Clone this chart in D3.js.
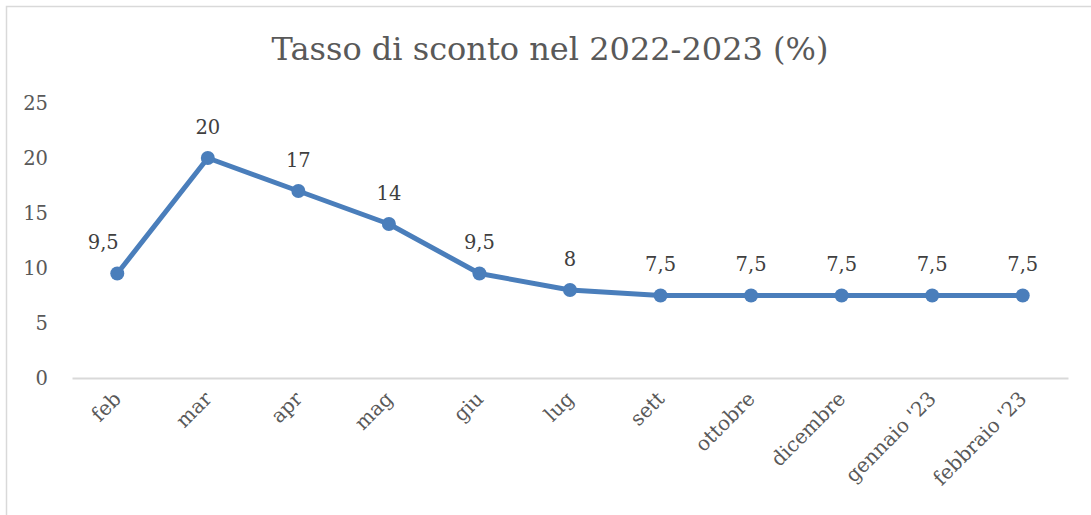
<!DOCTYPE html>
<html>
<head>
<meta charset="utf-8">
<script src="https://cdn.jsdelivr.net/npm/d3@7"></script>
<style>
  html, body { margin: 0; padding: 0; background: #fff; }
</style>
</head>
<body>
<div id="chart"></div>
<script>
// dati
const months = ["feb", "mar", "apr", "mag", "giu", "lug", "sett", "ottobre", "dicembre", "gennaio '23", "febbraio '23"];
const rates = [9.5, 20, 17, 14, 9.5, 8, 7.5, 7.5, 7.5, 7.5, 7.5];
const yTicks = [0, 5, 10, 15, 20, 25];
const title = "Tasso di sconto nel 2022-2023 (%)";

const width = 1091;
const height = 515;
const marginLeft = 72;
const marginRight = 23;
const marginTop = 103;
const plotBottom = 378;

const font = "'DejaVu Serif', serif";
const textColor = "#595959";
const lineColor = "#4a7ebb";

const svg = d3.create("svg")
    .attr("width", width)
    .attr("height", height);

// bordo del grafico
svg.append("rect")
    .attr("x", 6.5)
    .attr("y", 6.5)
    .attr("width", width + 20)
    .attr("height", height + 20)
    .attr("fill", "#fff")
    .attr("stroke", "#d9d9d9")
    .attr("stroke-width", 1.5);

const x = d3.scaleBand(months, [marginLeft, width - marginRight]);
const y = d3.scaleLinear([0, 25], [plotBottom, marginTop]);

// titolo
svg.append("text")
    .text(title)
    .attr("x", 550)
    .attr("y", 60)
    .attr("text-anchor", "middle")
    .attr("font-family", font)
    .attr("font-size", 32)
    .attr("fill", textColor);

// asse y (solo etichette)
const yAxis = svg.append("g")
    .attr("transform", `translate(${marginLeft},0)`)
    .call(d3.axisLeft(y).tickValues(yTicks).tickSize(0).tickPadding(24));
yAxis.select(".domain").remove();
yAxis.selectAll(".tick text")
    .attr("font-family", font)
    .attr("font-size", 19.5)
    .attr("fill", textColor);

// asse x
const xAxis = svg.append("g")
    .attr("transform", `translate(0,${plotBottom})`)
    .call(d3.axisBottom(x).tickSize(0));
xAxis.select(".domain")
    .attr("stroke", "#d9d9d9")
    .attr("stroke-width", 2);
xAxis.selectAll(".tick text")
    .attr("font-family", font)
    .attr("font-size", 20)
    .attr("fill", textColor)
    .attr("text-anchor", "end")
    .attr("dy", "0.35em")
    .attr("transform", "translate(-2,15) rotate(-45)");

// linea
const cx = d => x(d[0]) + x.bandwidth() / 2;
const pts = months.map((m, i) => [m, rates[i]]);

svg.append("path")
    .attr("fill", "none")
    .attr("stroke", lineColor)
    .attr("stroke-width", 5)
    .attr("stroke-linejoin", "round")
    .attr("d", d3.line().x(cx).y(d => y(d[1]))(pts));

svg.append("g")
    .selectAll("circle")
    .data(pts)
    .join("circle")
    .attr("cx", cx)
    .attr("cy", d => y(d[1]))
    .attr("r", 7)
    .attr("fill", lineColor);

// etichette dati
svg.append("g")
    .selectAll("text")
    .data(pts)
    .join("text")
    .text(d => String(d[1]).replace(".", ","))
    .attr("x", (d, i) => cx(d) - (i === 0 ? 14 : 0))
    .attr("y", d => y(d[1]) - 31)
    .attr("dy", "0.35em")
    .attr("text-anchor", "middle")
    .attr("font-family", font)
    .attr("font-size", 19.5)
    .attr("fill", "#404040");

document.getElementById("chart").append(svg.node());
</script>
</body>
</html>
